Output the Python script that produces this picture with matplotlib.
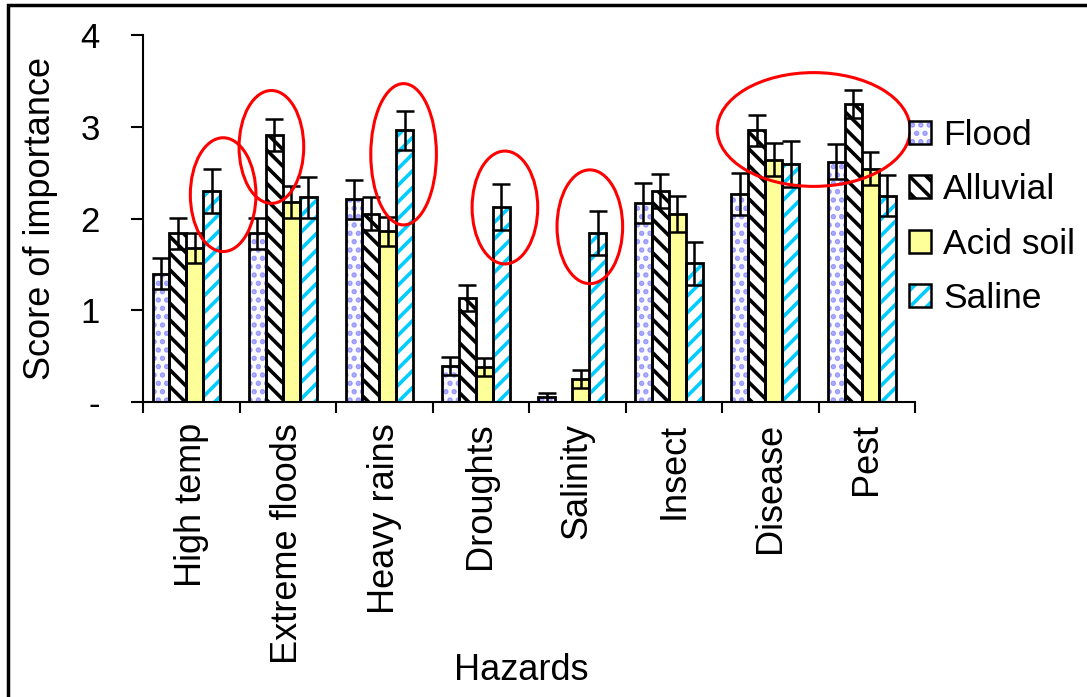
import numpy as np
import matplotlib
matplotlib.use('Agg')
import matplotlib.pyplot as plt
from matplotlib.patches import Ellipse, Patch, Rectangle
from matplotlib.legend_handler import HandlerTuple

# data
hazards = ['High temp', 'Extreme floods', 'Heavy rains', 'Droughts',
           'Salinity', 'Insect', 'Disease', 'Pest']
flood = [1.40, 1.84, 2.21, 0.39, 0.05, 2.17, 2.27, 2.62]
flood_err = [0.17, 0.17, 0.21, 0.10, 0.05, 0.22, 0.23, 0.19]
alluvial = [1.84, 2.91, 2.05, 1.13, 0.0, 2.30, 2.96, 3.25]
alluvial_err = [0.17, 0.17, 0.18, 0.14, 0.0, 0.19, 0.17, 0.15]
acid = [1.68, 2.18, 1.86, 0.38, 0.25, 2.05, 2.64, 2.54]
acid_err = [0.16, 0.17, 0.16, 0.10, 0.10, 0.20, 0.18, 0.18]
saline = [2.30, 2.23, 2.96, 2.13, 1.84, 1.51, 2.59, 2.25]
saline_err = [0.24, 0.22, 0.21, 0.25, 0.24, 0.23, 0.25, 0.22]

# highlighted bars (ellipses): centre x, centre y, width, height
ell_x = [0.33, 0.83, 2.20, 3.25, 4.13, 6.45]
ell_y = [2.26, 2.78, 2.70, 2.12, 1.91, 2.97]
ell_w = [0.68, 0.67, 0.68, 0.68, 0.68, 2.00]
ell_h = [1.24, 1.23, 1.54, 1.23, 1.24, 1.24]

plt.rcParams['font.family'] = ['Liberation Sans', 'DejaVu Sans']
plt.rcParams['hatch.linewidth'] = 2.6

fig = plt.figure(figsize=(10.87, 6.97), dpi=100)
ax = fig.add_axes([0.1316, 0.4232, 0.7102, 0.5266])

x = np.arange(len(hazards))
w = 0.176
shift = -0.05
series = [
    ('Flood', flood, flood_err, '#FCFCFF', '#9999FF', '..'),
    ('Alluvial', alluvial, alluvial_err, 'white', 'black', '\\\\'),
    ('Acid soil', acid, acid_err, '#FFFF99', '#FFFF99', ''),
    ('Saline', saline, saline_err, 'white', '#00CCFF', '//'),
]

handles = []
for k, (name, vals, errs, fc, hc, hatch) in enumerate(series):
    pos = x + shift + (k - 1.5) * w
    # hatch layer (hatch takes the edge colour), then black outline on top
    ax.bar(pos, vals, w, color=fc, edgecolor=hc, hatch=hatch, linewidth=0, zorder=2)
    ax.bar(pos, vals, w, facecolor='none', edgecolor='black', linewidth=2, zorder=3)
    ax.errorbar(pos, vals, yerr=errs, fmt='none', ecolor='black',
                elinewidth=1.8, capsize=6.5, capthick=1.8, zorder=4)
    h1 = Patch(facecolor=fc, edgecolor=hc, hatch=hatch, linewidth=0)
    h2 = Patch(facecolor='none', edgecolor='black', linewidth=1.8)
    handles.append((h1, h2))

for ex, ey, ew, eh in zip(ell_x, ell_y, ell_w, ell_h):
    ax.add_patch(Ellipse((ex, ey), ew, eh, fill=False, edgecolor='#FF0000',
                         linewidth=2.2, zorder=6, clip_on=False))

ax.set_xlim(-0.5, len(hazards) - 0.5)
ax.set_ylim(0, 4)
ax.set_yticks([0, 1, 2, 3, 4])
ax.set_yticklabels(['-', '1', '2', '3', '4'], fontsize=25)
ax.set_xticks(x)
ax.set_xticklabels(hazards, rotation=90, fontsize=26)
ax.set_xticks(np.arange(len(hazards) + 1) - 0.5, minor=True)
ax.tick_params(axis='x', which='major', length=0, pad=15)
ax.tick_params(axis='x', which='minor', length=8, width=1.5, direction='out')
ax.tick_params(axis='y', length=9, width=1.5, direction='out', pad=22)

for s in ['top', 'right']:
    ax.spines[s].set_visible(False)
for s in ['left', 'bottom']:
    ax.spines[s].set_linewidth(1.5)

ax.set_ylabel('Score of importance', fontsize=26, labelpad=16)
ax.set_xlabel('Hazards', fontsize=26)
ax.xaxis.set_label_coords(0.49, -0.685)

fig.legend(handles, [s[0] for s in series], handler_map={tuple: HandlerTuple(ndivide=1)},
           loc='upper left', bbox_to_anchor=(0.836, 0.829), frameon=False,
           fontsize=25.5, handlelength=0.62, handleheight=0.62,
           handletextpad=0.35, labelspacing=0.6, borderaxespad=0,
           borderpad=0)

# frame round the picture (right and bottom edges fall outside the image)
fig.patches.append(Rectangle((0.007, -0.05), 1.1, 1.043, transform=fig.transFigure,
                             fill=False, edgecolor='black', linewidth=2.5))

fig.savefig('out.png', dpi=100)
